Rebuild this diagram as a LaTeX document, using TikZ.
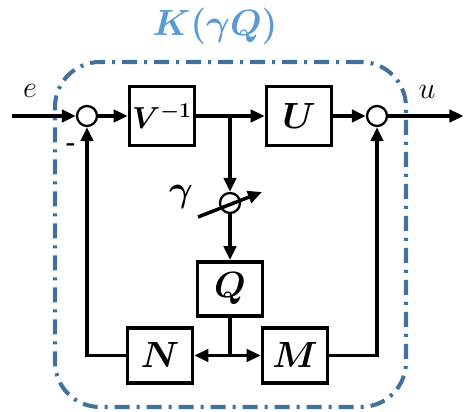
\documentclass[tikz,border=0pt]{standalone}
\usepackage{amsmath,amssymb,bm}
\usepackage{tikz}
\usetikzlibrary{arrows.meta, positioning, calc}
\definecolor{framec}{RGB}{65,113,156}
\definecolor{titlec}{RGB}{91,155,213}
\tikzset{
  box/.style={
    rectangle, draw, fill=white, line width=2pt,
    minimum width=1.3cm, minimum height=1.18cm, inner sep=0pt,
    font=\huge
  },
  sumc/.style={circle, draw, fill=white, line width=1.3pt,
    minimum size=0.4cm, inner sep=0pt},
  arr/.style={-{Triangle[length=8pt,width=7pt]}, line width=2pt},
  frame/.style={draw=framec, line width=2.3pt, rounded corners=0.9cm,
    dash pattern=on 0.3cm off 0.14cm on 0.06cm off 0.14cm},
  lbl/.style={font=\LARGE}
}
\begin{document}
\begin{tikzpicture}
  \useasboundingbox (0,0) rectangle (9.3,8.24);
  % controller boundary
  \node[frame, minimum width=7.02cm, minimum height=6.9cm] (kbox) at (4.61,3.55) {};
  \node[font=\huge, text=titlec] (kname) at (4.3,7.72) {$\bm{K(\gamma Q)}$};

  % forward path
  \node[sumc] (sum1) at (1.74,5.92) {};
  \node[box, font=\LARGE] (vinv) at (3.24,5.92) {$\bm{V^{-1}}$};
  \node[box] (uu) at (5.98,5.92) {$\bm{U}$};
  \node[sumc] (sum2) at (7.54,5.92) {};

  % gain and Q
  \node[sumc] (gam) at (4.6,4.18) {};
  \node[box, minimum height=1.08cm, below=0.92cm of gam] (qq) {$\bm{Q}$};
  \node[box, minimum height=1.1cm] (nn) at (3.2,1.13) {$\bm{N}$};
  \node[box, minimum height=1.1cm] (mm) at (5.9,1.13) {$\bm{M}$};

  \coordinate (in)  at (0.24,5.92);
  \coordinate (out) at (9.27,5.92);
  \coordinate (br)  at (vinv.east -| gam);
  \coordinate (jn)  at (qq.south |- nn);
  \coordinate (g0)  at (3.96,3.9);
  \coordinate (g1)  at (5.24,4.4);

  \draw[arr] (in)   -- (sum1);
  \draw[arr] (sum1) -- (vinv);
  \draw[arr] (vinv) -- (uu);
  \draw[arr] (uu)   -- (sum2);
  \draw[arr] (sum2) -- (out);

  \draw[arr] (br)  -- (gam.north);
  \draw[arr] (gam) -- (qq);
  \draw[arr] (g0)  -- (g1);

  \draw[line width=2pt] (qq.south) -- (jn);
  \draw[arr] (jn) -- (nn.east);
  \draw[arr] (jn) -- (mm.west);
  \draw[arr] (nn.west) -| (sum1.south);
  \draw[arr] (mm.east) -| (sum2.south);

  % labels
  \node[lbl] (le) at (0.6,6.42) {$e$};
  \node[lbl] (lu) at (8.54,6.4) {$u$};
  \node[font=\huge] (lg) at (3.62,4.3) {$\bm{\gamma}$};
  \node[font=\Large\bfseries] (lm) at (1.42,5.3) {-};
\end{tikzpicture}
\end{document}
